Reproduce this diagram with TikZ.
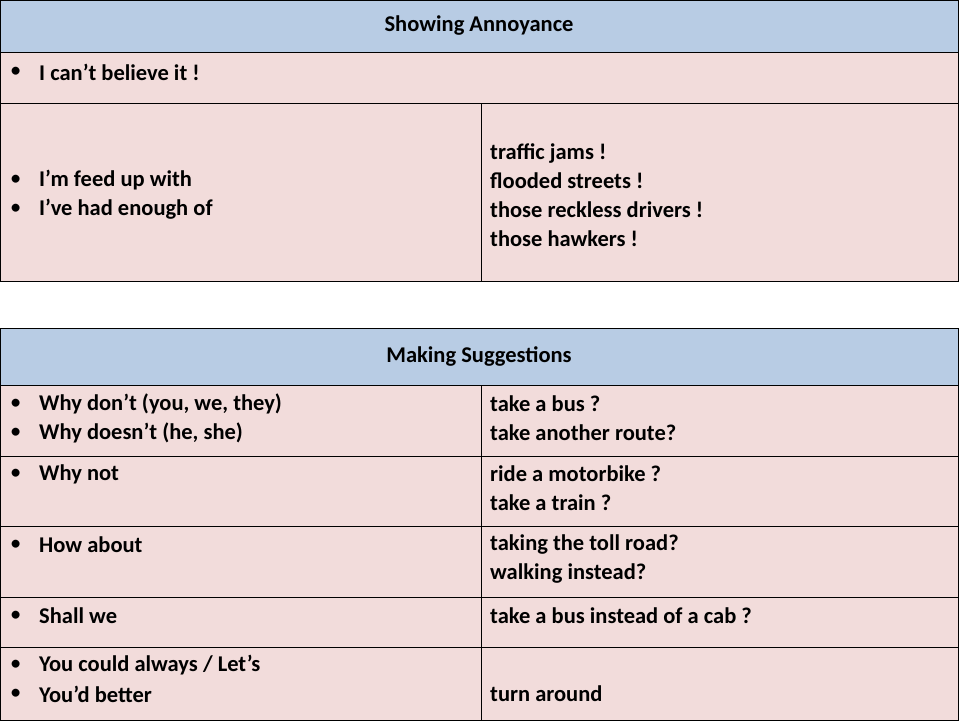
\documentclass[tikz,border=0pt]{standalone}
\usepackage{fontspec}
\setmainfont{Carlito}
\definecolor{headblue}{RGB}{184,204,228}
\definecolor{cellpink}{RGB}{242,220,219}
\tikzset{
	head/.style  = {fill=headblue, draw=black, line width=0.8pt},
	cell/.style  = {fill=cellpink, draw=black, line width=0.8pt},
	txt/.style   = {anchor=west, inner sep=0pt, font=\fontsize{22.5}{29}\selectfont\bfseries, align=left},
	bul/.style   = {anchor=west, inner sep=0pt, font=\fontsize{22.5}{29}\selectfont}
}
\newcommand{\bl}{\textbullet}
\begin{document}
\begin{tikzpicture}[x=1pt, y=-1pt]
	\useasboundingbox (0,0) rectangle (960,720);
	% showing annoyance
	\draw[head] (0,0) rectangle (958,52);
	\node[txt, anchor=center] (h1) at (479,26) {Showing Annoyance};
	\draw[cell] (0,52) rectangle (958,103);
	\draw[cell] (0,103) rectangle (481,281);
	\draw[cell] (481,103) rectangle (958,281);
	\node[bul] (b1) at (10,72) {\bl};
	\node[txt] (t1) at (39,72) {I can’t believe it !};
	\node[bul] (b2) at (10,180) {\bl};
	\node[bul] (b3) at (10,209) {\bl};
	\node[txt] (t2) at (39,180) {I’m feed up with};
	\node[txt] (t3) at (39,209) {I’ve had enough of};
	\node[txt] (r1) at (490,195) {traffic jams !\\flooded streets !\\those reckless drivers !\\those hawkers !};
	% making suggestions
	\draw[head] (0,328) rectangle (958,385);
	\node[txt, anchor=center] (h2) at (479,356) {Making Suggestions};
	\foreach \ya/\yb in {385/456, 456/526, 526/597, 597/647, 647/720}{
		\draw[cell] (0,\ya) rectangle (481,\yb);
		\draw[cell] (481,\ya) rectangle (958,\yb);
	}
	\foreach \yy in {404,433,474,545,616,665,694}
		\node[bul] at (10,\yy) {\bl};
	\node[txt] (s1) at (39,404) {Why don’t (you, we, they)};
	\node[txt] (s2) at (39,433) {Why doesn’t (he, she)};
	\node[txt] (s3) at (39,474) {Why not};
	\node[txt] (s4) at (39,545) {How about};
	\node[txt] (s5) at (39,616) {Shall we};
	\node[txt] (s6) at (39,665) {You could always / Let’s};
	\node[txt] (s7) at (39,694) {You’d better};
	\node[txt] (a1) at (490,418.5) {take a bus ?\\take another route?};
	\node[txt] (a2) at (490,488.5) {ride a motorbike ?\\take a train ?};
	\node[txt] (a3) at (490,559.5) {taking the toll road?\\walking instead?};
	\node[txt] (a4) at (490,616) {take a bus instead of a cab ?};
	\node[txt] (a5) at (490,694) {turn around};
\end{tikzpicture}
\end{document}
